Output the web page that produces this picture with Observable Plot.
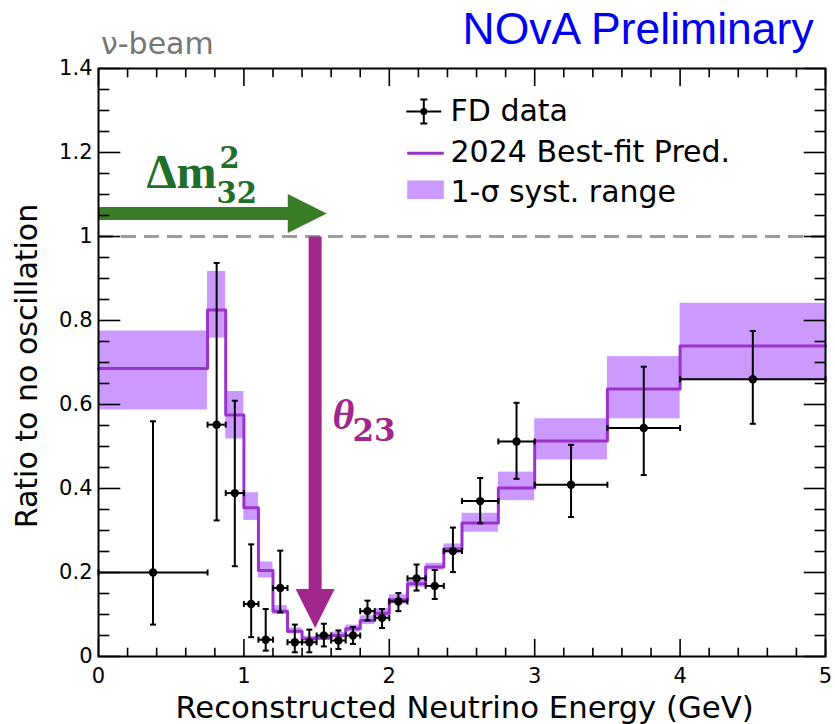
<!DOCTYPE html>
<html><head><meta charset="utf-8">
<script src="https://cdn.jsdelivr.net/npm/d3@7"></script>
<script src="https://cdn.jsdelivr.net/npm/@observablehq/plot@0.6"></script>
<style>body{margin:0;background:#fff} #chart svg{display:block}</style>
</head><body><div id="chart"></div>
<script>
// ---- data ----
const binEdges = [0, 0.75, 0.875, 1.0, 1.1, 1.2, 1.3, 1.4, 1.5, 1.6, 1.7, 1.8, 1.9, 2.0, 2.125, 2.25, 2.375, 2.5, 2.75, 3.0, 3.5, 4.0, 5.0];
const predRatio = [0.686, 0.825, 0.575, 0.354, 0.205, 0.108, 0.060, 0.042, 0.044, 0.050, 0.066, 0.086, 0.103, 0.135, 0.173, 0.213, 0.256, 0.318, 0.401, 0.513, 0.637, 0.739];
const systLow  = [0.587, 0.758, 0.518, 0.324, 0.187, 0.100, 0.054, 0.037, 0.038, 0.044, 0.058, 0.076, 0.094, 0.125, 0.165, 0.206, 0.245, 0.296, 0.371, 0.468, 0.566, 0.657];
const systHigh = [0.775, 0.917, 0.631, 0.390, 0.225, 0.121, 0.068, 0.048, 0.051, 0.058, 0.075, 0.097, 0.114, 0.147, 0.182, 0.222, 0.268, 0.341, 0.439, 0.566, 0.714, 0.841];
const dataEnergy  = [0.375, 0.8125, 0.9375, 1.05, 1.15, 1.25, 1.35, 1.45, 1.55, 1.65, 1.75, 1.85, 1.95, 2.0625, 2.1875, 2.3125, 2.4375, 2.625, 2.875, 3.25, 3.75, 4.5];
const dataRatio   = [0.200, 0.552, 0.389, 0.125, 0.040, 0.163, 0.034, 0.034, 0.050, 0.038, 0.050, 0.108, 0.092, 0.131, 0.186, 0.168, 0.251, 0.370, 0.512, 0.409, 0.544, 0.660];
const dataErrLow  = [0.076, 0.324, 0.215, 0.046, 0.014, 0.105, 0.010, 0.010, 0.024, 0.018, 0.030, 0.086, 0.068, 0.108, 0.157, 0.137, 0.201, 0.317, 0.423, 0.332, 0.432, 0.554];
const dataErrHigh = [0.560, 0.937, 0.609, 0.267, 0.113, 0.252, 0.076, 0.064, 0.078, 0.062, 0.070, 0.133, 0.113, 0.151, 0.219, 0.206, 0.307, 0.425, 0.604, 0.504, 0.690, 0.775];

const xMajorTicks = [0, 1, 2, 3, 4, 5];
const xTickLabels = ["0", "1", "2", "3", "4", "5"];
const yMajorTicks = [0, 0.2, 0.4, 0.6, 0.8, 1.0, 1.2, 1.4];
const yTickLabels = ["0", "0.2", "0.4", "0.6", "0.8", "1", "1.2", "1.4"];
const legendLabels = ["FD data", "2024 Best-fit Pred.", "1-\u03c3 syst. range"];
const titleRight = "NOvA Preliminary";
const titleLeft = "\u03bd-beam";
const xTitle = "Reconstructed Neutrino Energy (GeV)";
const yTitle = "Ratio to no oscillation";
const unoscLevel = [1];
const dmArrow = [{x1: 0, x2: 1.32, tip: 1.57, y: 1.055}];
const thArrow = [{x: 1.49, y1: 1.0, y2: 0.15, tip: 0.068}];

// ---- derived tables ----
const bins = predRatio.map((v, i) => ({lo: binEdges[i], hi: binEdges[i + 1], v, sLo: systLow[i], sHi: systHigh[i]}));
const stepPts = bins.flatMap(b => [{x: b.lo, y: b.v}, {x: b.hi, y: b.v}]);
const pts = dataEnergy.map((x, i) => ({x, y: dataRatio[i], lo: dataErrLow[i], hi: dataErrHigh[i], xlo: binEdges[i], xhi: binEdges[i + 1]}));
const xMinor = d3.range(0, 5.0001, 0.2).map(v => +v.toFixed(2)).filter(v => Math.abs(v - Math.round(v)) > 1e-6);
const yMinor = d3.range(0, 1.4001, 0.05).map(v => +v.toFixed(2)).filter(v => Math.abs(v * 5 - Math.round(v * 5)) > 1e-6);

// ---- custom symbols ----
const sym = f => ({draw: f});
const tickSym = (dx, dy) => sym(c => { c.moveTo(0, 0); c.lineTo(dx, dy); });
const capH = sym(c => { c.moveTo(-3, 0); c.lineTo(3, 0); });
const capV = sym(c => { c.moveTo(0, -3); c.lineTo(0, 3); });
const headRight = sym(c => { c.moveTo(0, 0); c.lineTo(-39, -19.5); c.lineTo(-39, 19.5); c.closePath(); });
const headDown = sym(c => { c.moveTo(0, 0); c.lineTo(-19.5, -39); c.lineTo(19.5, -39); c.closePath(); });
const legErr = sym(c => {
  c.moveTo(-17.5, 0); c.lineTo(17.5, 0);
  c.moveTo(0, -12); c.lineTo(0, 12);
  c.moveTo(-3.5, -12); c.lineTo(3.5, -12);
  c.moveTo(-3.5, 12); c.lineTo(3.5, 12);
});
const legLine = sym(c => { c.moveTo(-18.3, 0); c.lineTo(18.3, 0); });
const legRect = sym(c => { c.rect(-18.3, -9.2, 36.6, 18.4); });

const predColor = "#9933cc", bandColor = "#cc99ff";
const green = "#3a7d28", greenText = "#1f6e29", purple = "#a0288c";

const one = [0];
const chart = Plot.plot({
  width: 835, height: 724,
  marginLeft: 98, marginRight: 10, marginTop: 68, marginBottom: 68,
  x: {domain: [0, 5]},
  y: {domain: [0, 1.4]},
  style: {fontFamily: "DejaVu Sans", background: "white", color: "black"},
  marks: [
    // syst band and prediction
    Plot.rect(bins, {x1: "lo", x2: "hi", y1: "sLo", y2: "sHi", fill: bandColor}),
    Plot.line(stepPts, {x: "x", y: "y", stroke: predColor, strokeWidth: 3}),
    // unoscillated reference
    Plot.ruleY(unoscLevel, {stroke: "#9c9c9c", strokeWidth: 3, strokeDasharray: "15,8"}),
    // data error bars
    Plot.ruleX(pts, {x: "x", y1: "lo", y2: "hi", stroke: "black", strokeWidth: 2}),
    Plot.ruleY(pts, {y: "y", x1: "xlo", x2: "xhi", stroke: "black", strokeWidth: 2}),
    Plot.dot(pts, {x: "x", y: "lo", symbol: capH, stroke: "black", strokeWidth: 2, fill: "none"}),
    Plot.dot(pts, {x: "x", y: "hi", symbol: capH, stroke: "black", strokeWidth: 2, fill: "none"}),
    Plot.dot(pts, {x: "xlo", y: "y", symbol: capV, stroke: "black", strokeWidth: 2, fill: "none"}),
    Plot.dot(pts, {x: "xhi", y: "y", symbol: capV, stroke: "black", strokeWidth: 2, fill: "none"}),
    Plot.dot(pts, {x: "x", y: "y", r: 4.2, fill: "black", stroke: "none"}),
    // arrows
    Plot.link(dmArrow, {x1: "x1", x2: "x2", y1: "y", y2: "y", stroke: green, strokeWidth: 13}),
    Plot.dot(dmArrow, {x: "tip", y: "y", symbol: headRight, fill: green, stroke: "none"}),
    Plot.link(thArrow, {x1: "x", x2: "x", y1: "y1", y2: "y2", stroke: purple, strokeWidth: 13}),
    Plot.dot(thArrow, {x: "x", y: "tip", symbol: headDown, fill: purple, stroke: "none"}),
    // math annotations
    Plot.text(["\u0394m"], {frameAnchor: "top-left", dx: 48, dy: 119, text: d => d, textAnchor: "start", lineAnchor: "bottom", fontFamily: "Liberation Serif", fontWeight: "bold", fontSize: 48, fill: greenText}),
    Plot.text(["2"], {frameAnchor: "top-left", dx: 121, dy: 99, text: d => d, textAnchor: "start", lineAnchor: "bottom", fontFamily: "DejaVu Serif", fontWeight: "bold", fontSize: 29, fill: greenText}),
    Plot.text(["32"], {frameAnchor: "top-left", dx: 118, dy: 134, text: d => d, textAnchor: "start", lineAnchor: "bottom", fontFamily: "DejaVu Serif", fontWeight: "bold", fontSize: 29, fill: greenText}),
    Plot.text(["\u03b8"], {frameAnchor: "top-left", dx: 234, dy: 360, text: d => d, textAnchor: "start", lineAnchor: "bottom", fontFamily: "Liberation Serif", fontWeight: "bold", fontStyle: "italic", fontSize: 42, fill: purple}),
    Plot.text(["23"], {frameAnchor: "top-left", dx: 254, dy: 372, text: d => d, textAnchor: "start", lineAnchor: "bottom", fontFamily: "DejaVu Serif", fontWeight: "bold", fontSize: 31, fill: purple}),
    // legend
    Plot.dot(one, {frameAnchor: "top-left", dx: 325.3, dy: 43, symbol: legErr, stroke: "black", strokeWidth: 2, fill: "none"}),
    Plot.dot(one, {frameAnchor: "top-left", dx: 325.3, dy: 43, r: 3.5, fill: "black", stroke: "none"}),
    Plot.dot(one, {frameAnchor: "top-left", dx: 327, dy: 84.7, symbol: legLine, stroke: predColor, strokeWidth: 3, fill: "none"}),
    Plot.dot(one, {frameAnchor: "top-left", dx: 327, dy: 121.2, symbol: legRect, fill: bandColor, stroke: "none"}),
    Plot.text([legendLabels[0]], {frameAnchor: "top-left", dx: 352, dy: 52, text: d => d, textAnchor: "start", lineAnchor: "bottom", fontSize: 30}),
    Plot.text([legendLabels[1]], {frameAnchor: "top-left", dx: 352, dy: 93, text: d => d, textAnchor: "start", lineAnchor: "bottom", fontSize: 30}),
    Plot.text([legendLabels[2]], {frameAnchor: "top-left", dx: 352, dy: 133, text: d => d, textAnchor: "start", lineAnchor: "bottom", fontSize: 30}),
    // titles
    Plot.text([titleRight], {frameAnchor: "top-left", dx: 364, dy: -24.7, text: d => d, textAnchor: "start", lineAnchor: "bottom", fontFamily: "Liberation Sans", fontSize: 44.5, fill: "#0000f0"}),
    Plot.text([titleLeft], {frameAnchor: "top-left", dx: 2.5, dy: -14.7, text: d => d, textAnchor: "start", lineAnchor: "bottom", fontSize: 30, fill: "#767676"}),
    Plot.text([xTitle], {frameAnchor: "bottom", dx: 2.5, dy: 61, text: d => d, textAnchor: "middle", lineAnchor: "bottom", fontSize: 30.7}),
    Plot.text([yTitle], {frameAnchor: "left", dx: -62, dy: 3.5, rotate: -90, text: d => d, textAnchor: "middle", lineAnchor: "bottom", fontSize: 30}),
    // ticks on all four sides (ROOT style, pointing inward)
    Plot.dot(xMajorTicks, {x: d => d, frameAnchor: "bottom", symbol: tickSym(0, -17.6), stroke: "black", strokeWidth: 1.6, fill: "none"}),
    Plot.dot(xMinor, {x: d => d, frameAnchor: "bottom", symbol: tickSym(0, -8.8), stroke: "black", strokeWidth: 1.6, fill: "none"}),
    Plot.dot(xMajorTicks, {x: d => d, frameAnchor: "top", symbol: tickSym(0, 17.6), stroke: "black", strokeWidth: 1.6, fill: "none"}),
    Plot.dot(xMinor, {x: d => d, frameAnchor: "top", symbol: tickSym(0, 8.8), stroke: "black", strokeWidth: 1.6, fill: "none"}),
    Plot.dot(yMajorTicks, {y: d => d, frameAnchor: "left", symbol: tickSym(21.8, 0), stroke: "black", strokeWidth: 1.6, fill: "none"}),
    Plot.dot(yMinor, {y: d => d, frameAnchor: "left", symbol: tickSym(10.9, 0), stroke: "black", strokeWidth: 1.6, fill: "none"}),
    Plot.dot(yMajorTicks, {y: d => d, frameAnchor: "right", symbol: tickSym(-21.8, 0), stroke: "black", strokeWidth: 1.6, fill: "none"}),
    Plot.dot(yMinor, {y: d => d, frameAnchor: "right", symbol: tickSym(-10.9, 0), stroke: "black", strokeWidth: 1.6, fill: "none"}),
    Plot.frame({stroke: "black", strokeWidth: 2}),
    // tick labels
    Plot.axisX(xMajorTicks, {anchor: "bottom", tickSize: 0, tickPadding: 12, fontSize: 21, label: null, tickFormat: (d, i) => xTickLabels[i]}),
    Plot.axisY(yMajorTicks, {anchor: "left", tickSize: 0, tickPadding: 6, fontSize: 21, label: null, tickFormat: (d, i) => yTickLabels[i]})
  ]
});
document.getElementById("chart").appendChild(chart);
</script>
</body></html>
